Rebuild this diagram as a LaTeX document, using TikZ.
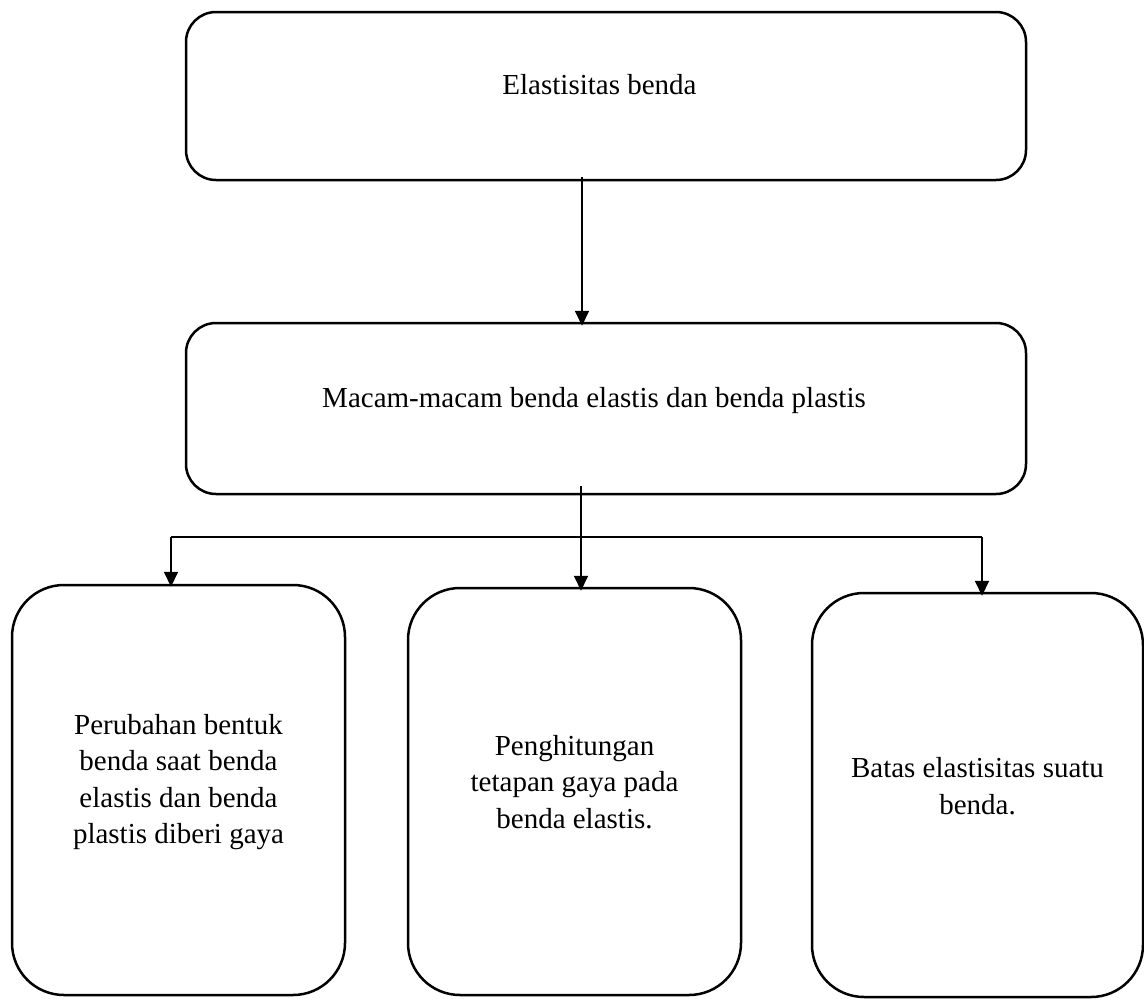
\documentclass[tikz,border=0pt]{standalone}
\usepackage{fontspec}
\setmainfont{Liberation Serif}
\usetikzlibrary{arrows.meta}
\begin{document}
\begin{tikzpicture}[x=1pt,y=-1pt,
  box/.style={draw=black,line width=2.5pt,rectangle,inner sep=0pt,fill=white},
  wide/.style={box,minimum width=840pt,rounded corners=30pt},
  tall/.style={box,minimum width=333pt,rounded corners=52pt},
  label/.style={align=center,inner sep=0pt,font=\fontsize{29}{36.5}\selectfont},
  arr/.style={line width=2pt,-{Triangle[length=15pt,width=14pt]}},
  bar/.style={line width=1.5pt}]
  \useasboundingbox (0,0) rectangle (1144,999);

  % boxes
  \node[wide,minimum height=168pt] (b1) at (606,96) {};
  \node[wide,minimum height=171pt] (b2) at (606,408.5) {};
  \node[tall,minimum height=410pt] (b3) at (178.5,790) {};
  \node[tall,minimum height=407pt] (b4) at (574.5,791.5) {};
  \node[tall,minimum width=331pt,minimum height=404pt] (b5) at (977.5,795) {};

  % labels
  \node[label,anchor=base] (t1) at (599.5,94) {Elastisitas benda};
  \node[label,anchor=base] (t2) at (594,407) {Macam-macam benda elastis dan benda plastis};
  \node[label] (t3) at (178.5,782) {Perubahan bentuk\\benda saat benda\\elastis dan benda\\plastis diberi gaya};
  \node[label] (t4) at (574.5,782) {Penghitungan\\tetapan gaya pada\\benda elastis.};
  \node[label] (t5) at (977.5,786) {Batas elastisitas suatu\\benda.};

  % junction points of the branching connector
  \coordinate (jl) at (171,537);
  \coordinate (jm) at (581,537);
  \coordinate (jr) at (982,537);

  % connectors
  \draw[arr] ([xshift=-24pt,yshift=4pt]b1.south) -- ([xshift=-24pt,yshift=-4pt]b2.north);
  \draw[arr] ([xshift=-25pt,yshift=9pt]b2.south) -- (jm) -- ([yshift=-4pt]b4.north -| jm);
  \draw[bar] (jl) -- (jr);
  \draw[arr] (jl) -- ([yshift=-3pt]b3.north -| jl);
  \draw[arr] (jr) -- ([yshift=-4pt]b5.north -| jr);
\end{tikzpicture}
\end{document}
